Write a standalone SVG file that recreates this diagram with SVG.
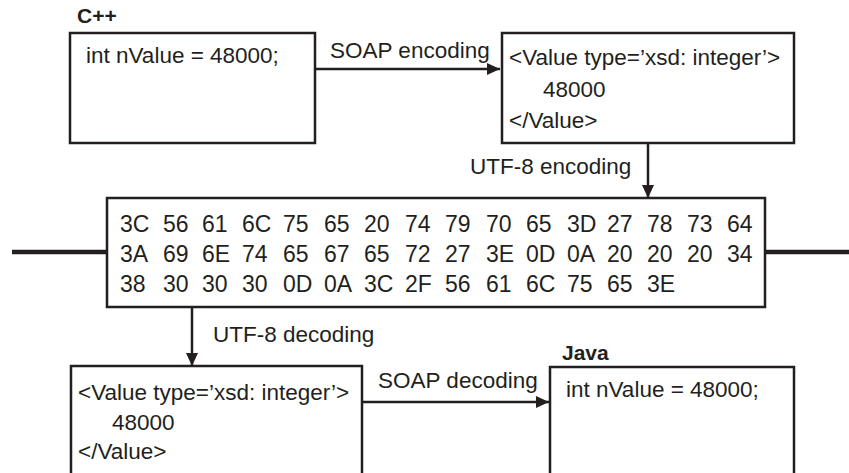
<svg xmlns="http://www.w3.org/2000/svg" width="849" height="473" viewBox="0 0 849 473">
  <style>
    .box { fill: #ffffff; stroke: #231f20; stroke-width: 2.5; }
    .t { font-family: "Liberation Sans", Arial, sans-serif; font-size: 22.5px; fill: #231f20; }
    .h { font-family: "Liberation Sans", Arial, sans-serif; font-size: 23px; fill: #231f20; }
    .b { font-family: "Liberation Sans", Arial, sans-serif; font-size: 21px; font-weight: bold; fill: #231f20; }
    .conn { stroke: #231f20; stroke-width: 2.5; fill: none; marker-end: url(#arrow); }
    .bus { stroke: #231f20; stroke-width: 4.5; fill: none; }
  </style>
  <defs>
    <marker id="arrow" viewBox="0 0 13 12" refX="13" refY="6" markerWidth="13" markerHeight="12" markerUnits="userSpaceOnUse" orient="auto">
      <path d="M0,0 L13,6 L0,12 Z" fill="#231f20"/>
    </marker>
  </defs>
  <rect width="849" height="473" fill="#ffffff"/>

  <g id="connectors">
    <line class="bus" x1="12" y1="252" x2="107" y2="252"/>
    <line class="bus" x1="765" y1="252" x2="849" y2="252"/>
    <path class="conn" d="M315,69 H500"/>
    <path class="conn" d="M648,143 V198"/>
    <path class="conn" d="M192,307 V366"/>
    <path class="conn" d="M362,402 H549"/>
    <text class="t" x="330" y="58">SOAP encoding</text>
    <text class="t" x="470" y="174">UTF-8 encoding</text>
    <text class="t" x="213" y="342">UTF-8 decoding</text>
    <text class="t" x="378" y="388">SOAP decoding</text>
  </g>

  <g id="cpp">
    <text class="b" x="77" y="23">C++</text>
    <rect class="box" x="70" y="33" width="245" height="110"/>
    <text class="t" x="86" y="63">int nValue = 48000;</text>
  </g>

  <g id="xml-encoded">
    <rect class="box" x="502" y="33" width="292" height="110"/>
    <text class="t" x="509" y="65">&lt;Value type=’xsd: integer’&gt;</text>
    <text class="t" x="543" y="97">48000</text>
    <text class="t" x="509" y="128">&lt;/Value&gt;</text>
  </g>

  <g id="bytes">
    <rect class="box" x="107" y="198" width="658" height="109"/>
    <text class="h" y="232"><tspan x="120">3C</tspan><tspan x="163">56</tspan><tspan x="202">61</tspan><tspan x="242">6C</tspan><tspan x="283">75</tspan><tspan x="324">65</tspan><tspan x="364">20</tspan><tspan x="405">74</tspan><tspan x="445">79</tspan><tspan x="486">70</tspan><tspan x="526">65</tspan><tspan x="567">3D</tspan><tspan x="607">27</tspan><tspan x="647">78</tspan><tspan x="687">73</tspan><tspan x="727">64</tspan></text>
    <text class="h" y="262"><tspan x="120">3A</tspan><tspan x="163">69</tspan><tspan x="202">6E</tspan><tspan x="242">74</tspan><tspan x="283">65</tspan><tspan x="324">67</tspan><tspan x="364">65</tspan><tspan x="405">72</tspan><tspan x="445">27</tspan><tspan x="486">3E</tspan><tspan x="526">0D</tspan><tspan x="567">0A</tspan><tspan x="607">20</tspan><tspan x="647">20</tspan><tspan x="687">20</tspan><tspan x="727">34</tspan></text>
    <text class="h" y="292"><tspan x="120">38</tspan><tspan x="163">30</tspan><tspan x="202">30</tspan><tspan x="242">30</tspan><tspan x="283">0D</tspan><tspan x="324">0A</tspan><tspan x="364">3C</tspan><tspan x="405">2F</tspan><tspan x="445">56</tspan><tspan x="486">61</tspan><tspan x="526">6C</tspan><tspan x="567">75</tspan><tspan x="607">65</tspan><tspan x="647">3E</tspan></text>
  </g>

  <g id="xml-decoded">
    <rect class="box" x="71" y="366" width="291" height="130"/>
    <text class="t" x="78" y="400">&lt;Value type=’xsd: integer’&gt;</text>
    <text class="t" x="112" y="430">48000</text>
    <text class="t" x="78" y="459">&lt;/Value&gt;</text>
  </g>

  <g id="java">
    <text class="b" x="562" y="360">Java</text>
    <rect class="box" x="550" y="367" width="244" height="130"/>
    <text class="t" x="566" y="397">int nValue = 48000;</text>
  </g>
</svg>
